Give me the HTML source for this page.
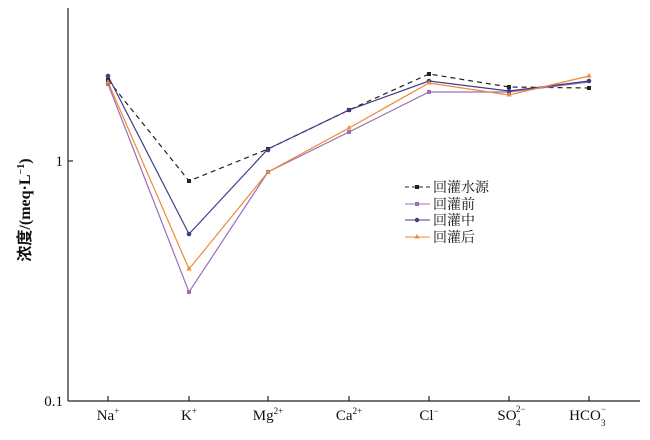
<!DOCTYPE html>
<html><head><meta charset="utf-8"><style>body{margin:0;background:#fff}</style></head><body>
<svg width="650" height="435" xmlns="http://www.w3.org/2000/svg" font-family="Liberation Serif, 'Noto Serif CJK SC', serif">
<rect width="650" height="435" fill="#fff"/>
<g stroke="#222" stroke-width="1.2" fill="none">
<line x1="68" y1="8" x2="68" y2="401"/>
<line x1="68" y1="401" x2="640" y2="401"/>
<line x1="68" y1="161" x2="73" y2="161"/>
<line x1="108" y1="401" x2="108" y2="396"/><line x1="189" y1="401" x2="189" y2="396"/><line x1="268" y1="401" x2="268" y2="396"/><line x1="349" y1="401" x2="349" y2="396"/><line x1="429" y1="401" x2="429" y2="396"/><line x1="509" y1="401" x2="509" y2="396"/><line x1="589" y1="401" x2="589" y2="396"/>
</g>
<g font-size="15" fill="#111">
<text x="63" y="166" text-anchor="end">1</text>
<text x="63" y="406" text-anchor="end">0.1</text>
<text x="108" y="420" text-anchor="middle">Na<tspan font-size="9" dy="-6">+</tspan></text>
<text x="189" y="420" text-anchor="middle">K<tspan font-size="9" dy="-6">+</tspan></text>
<text x="268" y="420" text-anchor="middle">Mg<tspan font-size="9" dy="-6">2+</tspan></text>
<text x="349" y="420" text-anchor="middle">Ca<tspan font-size="9" dy="-6">2+</tspan></text>
<text x="429" y="420" text-anchor="middle">Cl<tspan font-size="9" dy="-6">−</tspan></text>
<text x="507" y="420" text-anchor="middle">SO</text><text x="516" y="412" font-size="9">2−</text><text x="516" y="426" font-size="9">4</text>
<text x="585" y="420" text-anchor="middle">HCO</text><text x="601" y="412" font-size="9">−</text><text x="601" y="426" font-size="9">3</text>
<text transform="translate(30,210) rotate(-90)" text-anchor="middle" font-size="16" font-weight="bold" font-family="Liberation Serif, 'Noto Sans CJK SC', serif">浓度/(meq·L<tspan font-size="10" dy="-6">−1</tspan><tspan dy="6">)</tspan></text>
</g>
<polyline fill="none" stroke="#222" stroke-width="1.2" stroke-dasharray="5,4" points="108,80 189,181 268,149 349,110 429,74 509,87 589,88"/>
<polyline fill="none" stroke="#9b6fb8" stroke-width="1.2" points="108,84 189,292 268,172 349,132 429,92 509,92 589,82"/>
<polyline fill="none" stroke="#3d3f86" stroke-width="1.2" points="108,76 189,234 268,149 349,110 429,81 509,91 589,81"/>
<polyline fill="none" stroke="#ef8a35" stroke-width="1.2" points="108,82 189,269 268,172 349,128 429,83 509,95 589,76"/>
<g fill="#222"><rect x="106" y="78" width="4" height="4"/><rect x="187" y="179" width="4" height="4"/><rect x="266" y="147" width="4" height="4"/><rect x="347" y="108" width="4" height="4"/><rect x="427" y="72" width="4" height="4"/><rect x="507" y="85" width="4" height="4"/><rect x="587" y="86" width="4" height="4"/></g>
<g fill="#9b6fb8"><rect x="106" y="82" width="4" height="4"/><rect x="187" y="290" width="4" height="4"/><rect x="266" y="170" width="4" height="4"/><rect x="347" y="130" width="4" height="4"/><rect x="427" y="90" width="4" height="4"/><rect x="507" y="90" width="4" height="4"/></g>
<g fill="#3d3f86"><circle cx="108" cy="76" r="2.3"/><circle cx="189" cy="234" r="2.3"/><circle cx="268" cy="150" r="2.3"/><circle cx="349" cy="110" r="2.3"/><circle cx="429" cy="81" r="2.3"/><circle cx="509" cy="91" r="2.3"/><circle cx="589" cy="81" r="2.3"/></g>
<g fill="#ef8a35"><path d="M108,79 l2.6,4.5 h-5.2z"/><path d="M189,266 l2.6,4.5 h-5.2z"/><path d="M268,169 l2.6,4.5 h-5.2z"/><path d="M349,125 l2.6,4.5 h-5.2z"/><path d="M429,80 l2.6,4.5 h-5.2z"/><path d="M509,92 l2.6,4.5 h-5.2z"/><path d="M589,73 l2.6,4.5 h-5.2z"/></g>
<g font-size="14" fill="#111" font-family="'Noto Serif CJK SC', serif">
<line x1="405" y1="187" x2="430" y2="187" stroke="#222" stroke-dasharray="4,3"/><rect x="415" y="185" width="4" height="4" fill="#222"/>
<text x="433" y="192">回灌水源</text>
<line x1="405" y1="204" x2="430" y2="204" stroke="#9b6fb8"/><rect x="415" y="202" width="4" height="4" fill="#9b6fb8"/>
<text x="433" y="209">回灌前</text>
<line x1="405" y1="220" x2="430" y2="220" stroke="#3d3f86"/><circle cx="417" cy="220" r="2.2" fill="#3d3f86"/>
<text x="433" y="225">回灌中</text>
<line x1="405" y1="237" x2="430" y2="237" stroke="#ef8a35"/><path d="M417,234 l2.6,4.5 h-5.2z" fill="#ef8a35"/>
<text x="433" y="242">回灌后</text>
</g>
</svg>
</body></html>
